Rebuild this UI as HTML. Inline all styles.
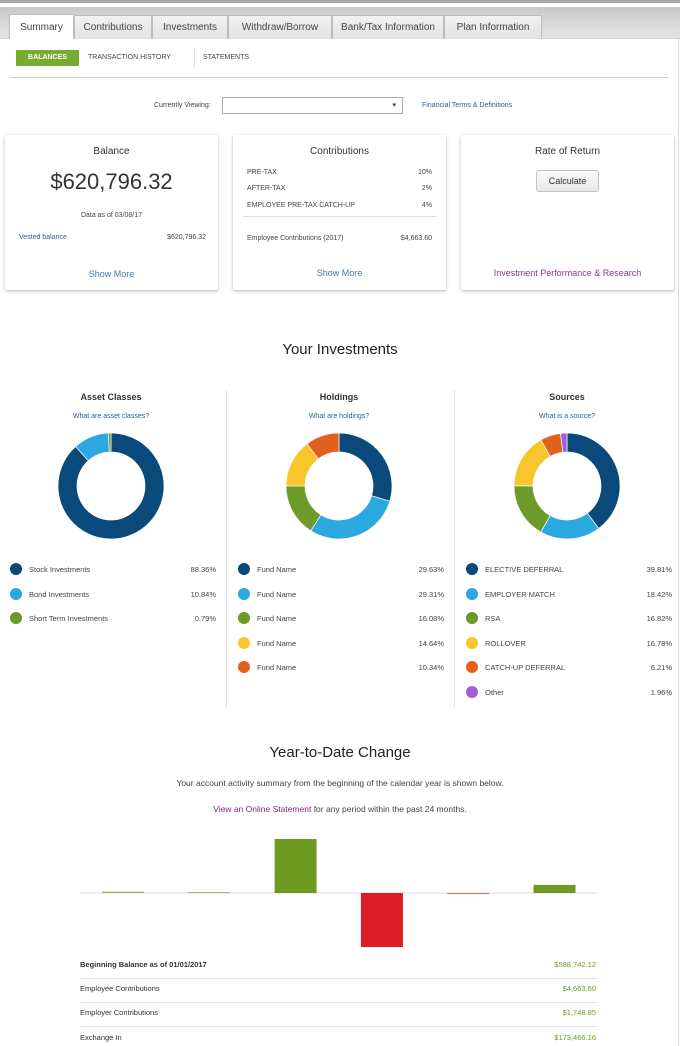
<!DOCTYPE html>
<html><head><meta charset="utf-8">
<style>
*{box-sizing:border-box;margin:0;padding:0}
body{width:680px;height:1046px;background:#fff;font-family:"Liberation Sans",sans-serif;position:relative;overflow:hidden;color:#333}
.a{position:absolute}
.tab{position:absolute;top:15px;height:24px;border:1px solid #bdbdbd;border-bottom:none;background:linear-gradient(#f2f2f2,#e2e2e2);font-size:10px;color:#444;text-align:center;line-height:24px}
.card{position:absolute;top:135px;width:213px;height:155px;background:#fff;box-shadow:0 1px 3px rgba(0,0,0,.3);border-radius:2px}
.sm{font-size:7px;color:#444}
.lnk{color:#2c5d9a}
.leg{position:absolute;font-size:7.5px;color:#444}
.dot{position:absolute;width:12px;height:12px;border-radius:50%}
</style></head><body>
<div class="a" style="left:0;top:0;width:680px;height:3px;background:#a8a8a8"></div>
<div class="a" style="left:0;top:7px;width:680px;height:32px;background:linear-gradient(#c9c9c9,#e4e4e4);border-bottom:1px solid #cfcfcf"></div>
<div class="tab" style="left:9px;width:65px;background:#fff;height:25px;top:14px;line-height:26px">Summary</div>
<div class="tab" style="left:74px;width:78px">Contributions</div>
<div class="tab" style="left:152px;width:76px">Investments</div>
<div class="tab" style="left:228px;width:104px">Withdraw/Borrow</div>
<div class="tab" style="left:332px;width:112px">Bank/Tax Information</div>
<div class="tab" style="left:444px;width:98px">Plan Information</div>
<div class="a" style="left:678px;top:39px;width:1px;height:1007px;background:#ddd"></div>

<div class="a" style="left:16px;top:50px;width:63px;height:16px;background:#77ad2f;color:#fff;font-size:7px;font-weight:bold;text-align:center;line-height:16px;border-radius:1px">BALANCES</div>
<div class="a sm" style="left:88px;top:54px">TRANSACTION HISTORY</div>
<div class="a" style="left:194px;top:49px;width:1px;height:18px;background:#ddd"></div>
<div class="a sm" style="left:203px;top:54px">STATEMENTS</div>
<div class="a" style="left:10px;top:77px;width:658px;height:1px;background:#ccc"></div>

<div class="a sm" style="left:154px;top:102px">Currently Viewing:</div>
<div class="a" style="left:222px;top:97px;width:181px;height:17px;border:1px solid #aaa;font-size:7px;text-align:right;padding-right:6px;line-height:15px">▾</div>
<div class="a sm lnk" style="left:422px;top:102px">Financial Terms &amp; Definitions</div>

<div class="card" style="left:5px">
 <div class="a" style="left:0;width:213px;top:11px;text-align:center;font-size:10px;color:#333">Balance</div>
 <div class="a" style="left:0;width:213px;top:34px;text-align:center;font-size:22px;color:#333">$620,796.32</div>
 <div class="a sm" style="left:0;width:213px;top:77px;text-align:center">Data as of 03/08/17</div>
 <div class="a sm lnk" style="left:14px;top:99px">Vested balance</div>
 <div class="a sm" style="right:12px;top:99px">$620,796.32</div>
 <div class="a lnk" style="left:0;width:213px;top:134px;text-align:center;font-size:9px;color:#4a78a8">Show More</div>
</div>
<div class="card" style="left:233px">
 <div class="a" style="left:0;width:213px;top:11px;text-align:center;font-size:10px">Contributions</div>
 <div class="a sm" style="left:14px;top:34px">PRE-TAX</div><div class="a sm" style="right:14px;top:34px">10%</div>
 <div class="a sm" style="left:14px;top:50px">AFTER-TAX</div><div class="a sm" style="right:14px;top:50px">2%</div>
 <div class="a sm" style="left:14px;top:67px">EMPLOYEE PRE-TAX CATCH-UP</div><div class="a sm" style="right:14px;top:67px">4%</div>
 <div class="a" style="left:10px;top:81px;width:193px;height:1px;background:#ddd"></div>
 <div class="a sm" style="left:14px;top:100px">Employee Contributions (2017)</div><div class="a sm" style="right:14px;top:100px">$4,663.60</div>
 <div class="a" style="left:0;width:213px;top:133px;text-align:center;font-size:9px;color:#4a78a8">Show More</div>
</div>
<div class="card" style="left:461px">
 <div class="a" style="left:0;width:213px;top:11px;text-align:center;font-size:10px">Rate of Return</div>
 <div class="a" style="left:75px;top:35px;width:63px;height:22px;border:1px solid #c4c4c4;border-radius:3px;background:linear-gradient(#fafafa,#e8e8e8);font-size:9px;text-align:center;line-height:20px">Calculate</div>
 <div class="a" style="left:0;width:213px;top:133px;text-align:center;font-size:9px;color:#8a3a8a">Investment Performance &amp; Research</div>
</div>

<div class="a" style="left:0;width:680px;top:341px;text-align:center;font-size:15px;color:#222">Your Investments</div>
<div class="a" style="left:226px;top:390px;width:1px;height:318px;background:#e2e2e2"></div>
<div class="a" style="left:454px;top:390px;width:1px;height:318px;background:#e2e2e2"></div>
<div class="a" style="left:0;width:222px;top:392px;text-align:center;font-size:9px;font-weight:bold">Asset Classes</div>
<div class="a sm lnk" style="left:0;width:222px;top:413px;text-align:center">What are asset classes?</div>
<div class="a" style="left:228px;width:222px;top:392px;text-align:center;font-size:9px;font-weight:bold">Holdings</div>
<div class="a sm lnk" style="left:228px;width:222px;top:413px;text-align:center">What are holdings?</div>
<div class="a" style="left:456px;width:222px;top:392px;text-align:center;font-size:9px;font-weight:bold">Sources</div>
<div class="a sm lnk" style="left:456px;width:222px;top:413px;text-align:center">What is a source?</div>

<svg class="a" id="donuts" style="left:0;top:0" width="680" height="720"></svg>
<div id="legends"></div>

<div class="a" style="left:0;width:680px;top:744px;text-align:center;font-size:15px;color:#222">Year-to-Date Change</div>
<div class="a" style="left:0;width:680px;top:778px;text-align:center;font-size:8.5px;color:#444">Your account activity summary from the beginning of the calendar year is shown below.</div>
<div class="a" style="left:0;width:680px;top:804px;text-align:center;font-size:8.5px;color:#444"><span style="color:#7a2a7a">View an Online Statement</span> for any period within the past 24 months.</div>

<svg class="a" id="bars" style="left:0;top:820px" width="680" height="140"></svg>
<div id="table"></div>

<script>
const assetLabels=["Stock Investments","Bond Investments","Short Term Investments"];
const assetValues=[88.36,10.84,0.79];
const holdLabels=["Fund Name","Fund Name","Fund Name","Fund Name","Fund Name"];
const holdValues=[29.63,29.31,16.08,14.64,10.34];
const srcLabels=["ELECTIVE DEFERRAL","EMPLOYER MATCH","RSA","ROLLOVER","CATCH-UP DEFERRAL","Other"];
const srcValues=[39.81,18.42,16.82,16.78,6.21,1.96];
const colors=["#0a4a7a","#2ba8e0","#6e9a2a","#f8c52a","#e0601e","#a15fd6"];
const ytdValues=[4663.60,1748.85,173466.16,-173466.16,-600,26000];
const ytdPositive="#6e9a22", ytdNegative="#dc1c24";
const tableLabels=["Beginning Balance as of 01/01/2017","Employee Contributions","Employer Contributions","Exchange In"];
const tableValues=["$588,742.12","$4,663.60","$1,748.85","$173,466.16"];

const NS="http://www.w3.org/2000/svg";
const svg=document.getElementById('donuts');
function arc(cx,cy,r0,r1,a0,a1){
 const p=(r,a)=>[cx+r*Math.sin(a),cy-r*Math.cos(a)];
 const l=(a1-a0)>Math.PI?1:0;
 const [x0,y0]=p(r1,a0),[x1,y1]=p(r1,a1),[x2,y2]=p(r0,a1),[x3,y3]=p(r0,a0);
 return `M${x0},${y0}A${r1},${r1} 0 ${l} 1 ${x1},${y1}L${x2},${y2}A${r0},${r0} 0 ${l} 0 ${x3},${y3}Z`;
}
function donut(cx,vals,name){
 const tot=vals.reduce((a,b)=>a+b,0);let a=0;
 vals.forEach((v,i)=>{const s=a,e=a+v/tot*2*Math.PI;a=e;
  const p=document.createElementNS(NS,'path');
  p.setAttribute('d',arc(cx,486,34,53,s,e));
  p.setAttribute('fill',colors[i]);p.setAttribute('stroke','#fff');p.setAttribute('stroke-width','0.7');
  
  
  svg.appendChild(p);});
}
donut(111,assetValues,'asset');donut(339,holdValues,'holdings');donut(567,srcValues,'sources');

const leg=document.getElementById('legends');
function legend(x0,labels,vals,name){
 labels.forEach((t,i)=>{const y=569+i*24.6;
  const d=document.createElement('div');d.className='dot';
  
  
  d.style.left=(x0+10)+'px';d.style.top=(y-6)+'px';d.style.background=colors[i];leg.appendChild(d);
  const l=document.createElement('div');l.className='leg';
  
  
  l.style.left=(x0+29)+'px';l.style.top=(y-4)+'px';l.textContent=t;leg.appendChild(l);
  const v=document.createElement('div');v.className='leg';
  
  
  v.style.left=(x0+158)+'px';v.style.width='58px';v.style.textAlign='right';v.style.top=(y-4)+'px';v.textContent=vals[i].toFixed(2)+'%';leg.appendChild(v);
 });
}
legend(0,assetLabels,assetValues,'asset');legend(228,holdLabels,holdValues,'holdings');legend(456,srcLabels,srcValues,'sources');

const bs=document.getElementById('bars');
const base=73, scale=54/173466.16, x0=80, step=86.3, bw=42;
const ax=document.createElementNS(NS,'line');
ax.setAttribute('x1',80);ax.setAttribute('x2',598);ax.setAttribute('y1',base);ax.setAttribute('y2',base);
ax.setAttribute('stroke','#ddd');ax.setAttribute('stroke-width','1');


bs.appendChild(ax);
ytdValues.forEach((v,i)=>{
 const h=Math.max(1,Math.abs(v)*scale);
 const r=document.createElementNS(NS,'rect');
 r.setAttribute('x',x0+22+i*step);r.setAttribute('width',bw);
 r.setAttribute('y',v>=0?base-h:base);r.setAttribute('height',h);
 r.setAttribute('fill',v>=0?ytdPositive:ytdNegative);
 if(h<2) r.setAttribute('opacity','0.6');
 
 
 bs.appendChild(r);
});

const tb=document.getElementById('table');
tableLabels.forEach((t,i)=>{const y=960+i*24.2;
 const l=document.createElement('div');l.className='a';
 
 
 l.style.cssText=`left:80px;top:${y}px;font-size:7.5px;color:#333;${i==0?'font-weight:bold':''}`;l.textContent=t;tb.appendChild(l);
 const v=document.createElement('div');v.className='a';
 
 
 v.style.cssText=`left:480px;width:116px;text-align:right;top:${y}px;font-size:7.5px;color:#6e9a22`;v.textContent=tableValues[i];tb.appendChild(v);
 if(i<3){const s=document.createElement('div');s.className='a';
 
 
 s.style.cssText=`left:80px;width:518px;height:1px;background:#e2e2e2;top:${y+18}px`;tb.appendChild(s);}
});
</script>
</body></html>
